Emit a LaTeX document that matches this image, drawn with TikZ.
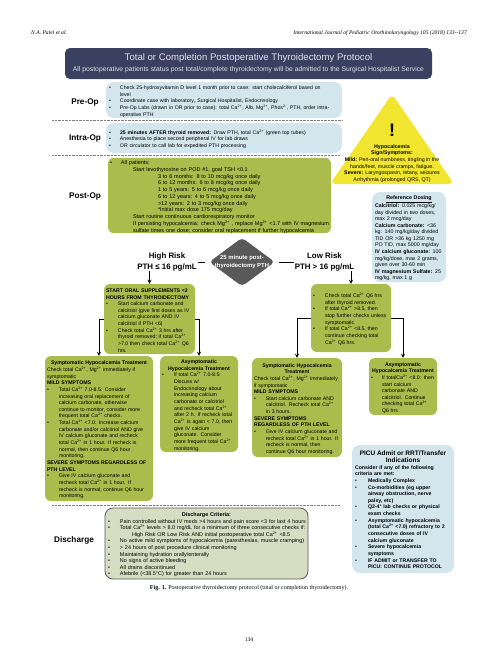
\documentclass[tikz,border=0pt]{standalone}
\usepackage{fontspec}
\setmainfont{Liberation Sans}
\setsansfont{Liberation Sans}
\newfontfamily\pagefont{Liberation Serif}
\usepackage{tikz}
\usetikzlibrary{positioning, calc, arrows.meta, shapes.geometric}
\usepackage{color}
\definecolor{navy}{RGB}{58, 64, 96}
\definecolor{paleblue}{RGB}{211, 230, 238}
\definecolor{olive}{RGB}{169, 188, 76}
\definecolor{warn}{RGB}{242, 229, 47}
\definecolor{slate}{RGB}{89, 89, 89}
\definecolor{sage}{RGB}{214, 221, 195}
\definecolor{titletext}{RGB}{222, 226, 236}
\setlength{\parindent}{0pt}
\newcommand{\caion}{Ca\textsuperscript{2+}}
\newcommand{\mgion}{Mg\textsuperscript{2+}}
\newcommand{\blt}[1]{\par\leftskip=#1\rightskip=-20pt plus 1fil\noindent\llap{\makebox[#1][l]{\textbullet}}}
\newcommand{\ctr}[1]{\par\leftskip=0pt\centerline{#1}}
\newcommand{\flush}{\par\leftskip=0pt\rightskip=-20pt plus 1fil\noindent}

\begin{document}
\begin{tikzpicture}[x=1pt, y=-1pt, every node/.style={font=\fontsize{5.2}{6.65}\selectfont}]
    \tikzstyle{bluebox} = [rectangle, fill=paleblue, rounded corners=8pt, align=left, inner xsep=3pt, inner ysep=0pt]
    \tikzstyle{greenbox} = [rectangle, fill=olive, rounded corners=6pt, align=left, inner xsep=2pt, inner ysep=0pt]
    \tikzstyle{phase} = [font=\fontsize{8.2}{10}\selectfont\bfseries]
    \tikzstyle{risk} = [font=\fontsize{7.9}{10}\selectfont\bfseries, align=center, inner sep=0pt]
    \tikzstyle{arrow} = [thick, ->, >=stealth]
    \tikzstyle{stub} = [thick, shorten >=1pt]
    \tikzstyle{divider} = [densely dotted, draw=gray, line width=0.4pt]
    \useasboundingbox (0,0) rectangle (499,665);

    % Page furniture
    \node (runleft) [anchor=west, inner sep=0pt, font=\pagefont\itshape\fontsize{5.6}{7}\selectfont] at (31,33) {N.A. Patel et al.};
    \node (runright) [anchor=east, inner sep=0pt, font=\pagefont\itshape\fontsize{5.6}{7}\selectfont] at (467,33) {International Journal of Pediatric Otorhinolaryngology 105 (2018) 133--137};
    \node (caption) [inner sep=0pt, font=\pagefont\fontsize{6}{7}\selectfont] at (249,588) {\textbf{Fig. 1.} Postoperative thyroidectomy protocol (total or completion thyroidectomy).};
    \node (pagenum) [inner sep=0pt, font=\pagefont\fontsize{5.6}{7}\selectfont] at (249,640) {134};

    % Title
    \node (title) [rectangle, fill=navy, rounded corners=5pt, text=titletext, align=center, minimum width=367pt, minimum height=31pt, inner sep=0pt] at (248.5,63.5) {{\fontsize{9.6}{11}\selectfont Total or Completion Postoperative Thyroidectomy Protocol}\\[3pt]{\fontsize{6.8}{9}\selectfont All postoperative patients status post total/complete thyroidectomy will be admitted to the Surgical Hospitalist Service}};

    % Phase boxes
    \node (preop) [bluebox, text width=230pt, minimum height=36pt] at (224,100) {%
        \blt{11pt}Check 25-hydroxyvitamin D level 1 month prior to case: start cholecalciferol based on\\level
        \blt{11pt}Coordinate case with laboratory,, Surgical Hospitalist, Endocrinology
        \blt{11pt}Pre-Op Labs (drawn in OR prior to case): total \caion, Alb, \mgion, Phos\textsuperscript{2-}, PTH, order intra-\\operative PTH\par};
    \node (intraop) [bluebox, text width=230pt, minimum height=30pt] at (224,138) {%
        \blt{11pt}\textbf{25 minutes AFTER thyroid removed:} Draw PTH, total \caion{} (green top tubes)
        \blt{11pt}Anesthesia to place second peripheral IV for lab draws
        \blt{11pt}OR circulator to call lab for expedited PTH processing\par};
    \node (postop) [greenbox, font=\fontsize{5.5}{6.75}\selectfont, text width=219pt, minimum height=75pt] at (219.5,195.5) {%
        \blt{11pt}All patients:\\
        \hspace*{12pt}Start levothyroxine on POD \#1, goal TSH <0.1\\
        \hspace*{37pt}3 to 6 months: 8 to 10 mcg/kg once daily\\
        \hspace*{37pt}6 to 12 months: 6 to 8 mcg/kg once daily\\
        \hspace*{37pt}1 to 5 years: 5 to 6 mcg/kg once daily\\
        \hspace*{37pt}6 to 12 years: 4 to 5 mcg/kg once daily\\
        \hspace*{37pt}>12 years: 2 to 3 mcg/kg once daily\\
        \hspace*{37pt}*Initial max dose 175 mcg/day\\
        \hspace*{12pt}Start routine continuous cardiorespiratory monitor\\
        \hspace*{12pt}If persisting hypocalcemia: check \mgion{} , replace \mgion{} <1.7 with IV magnesium\\
        \hspace*{12pt}sulfate times one dose; consider oral replacement if further hypocalcemia\par};

    \node (preoplbl) [phase] at (85,102) {Pre-Op};
    \node (intraoplbl) [phase, below of=preoplbl, node distance=36pt] {Intra-Op};
    \node (postoplbl) [phase, below of=intraoplbl, node distance=58pt] {Post-Op};
    \node (dischargelbl) [phase] at (74,540) {Discharge};

    \draw [divider] (52,120) -- (342,120);
    \draw [divider] (52,155.5) -- (340,155.5);
    \draw [divider] (52,505) -- (340,505);

    % Warning triangle and dosing
    \draw [fill=warn, rounded corners=5pt] [draw=none] (392,94) -- (454,184) -- (330,184) -- cycle;
    \node (bang) [inner sep=0pt, font=\fontsize{18}{20}\selectfont\bfseries] at (392,130) {!};
    \node (warntext) [inner sep=0pt, align=center, font=\fontsize{5.3}{6.6}\selectfont] at (392,163.5) {\textbf{Hypocalcemia}\\\textbf{Sign/Symptoms:}\\\textbf{Mild:} Peri-oral numbness, tingling in the\\hands/feet, muscle cramps, fatigue.\\\textbf{Severe:} Laryngospasm, tetany, seizures\\Arrhythmia (prolonged QRS, QT)};
    \node (dosing) [bluebox, font=\fontsize{5.3}{6.55}\selectfont, text width=68pt, minimum height=90pt] at (409,237) {%
        \ctr{\textbf{\underline{Reference Dosing}}}
        \flush\textbf{Calcitriol:} 0.025 mcg/kg/\\day divided in two doses,\\max 2 mcg/day\\
        \textbf{Calcium carbonate:} <36\\kg: 140 mg/kg/day divided\\TID OR >36 kg 1250 mg\\PO TID, max 5000 mg/day\\
        \textbf{IV calcium gluconate:} 100\\mg/kg/dose, max 2 grams,\\given over 30-60 min\\
        \textbf{IV magnesium Sulfate:} 25\\mg/kg, max 1 g\par};

    % PTH decision
    \node (pth) [diamond, fill=slate, rounded corners=4pt, inner sep=0pt, outer sep=3pt, minimum width=68pt, minimum height=51pt] at (242,262) {};
    \node (pthtext) [inner sep=0pt, align=center, text=white, font=\fontsize{5.9}{7.7}\selectfont] at (pth) {\textbf{25 minute post-}\\\textbf{thyroidectomy PTH}};
    \node (highlbl) [risk] at (167,262) {High Risk\\[1pt]PTH ≤ 16 pg/mL};
    \node (lowlbl) [risk] at (324.5,262) {Low Risk\\[1pt]PTH > 16 pg/mL};

    % High risk branch
    \node (highbox) [greenbox, text width=87pt, minimum height=70pt] at (149.5,319) {%
        \flush\textbf{START ORAL SUPPLEMENTS <2}\\\textbf{HOURS FROM THYROIDECTOMY}
        \blt{12pt}Start calcium carbonate and\\calcitriol (give first doses as IV\\calcium gluconate AND IV\\calcitriol if PTH <6)
        \blt{12pt}Check total \caion{} 3 hrs after\\thyroid removed; if total \caion\\>7.0 then check total \caion{} Q6\\hrs.\par};
    \node (symhigh) [greenbox, text width=104pt, minimum height=145pt] at (99,428.5) {%
        \ctr{\textbf{Symptomatic Hypocalcemia Treatment}}
        \flush Check total \caion, \mgion{} immediately if\\symptomatic\\\textbf{MILD SYMPTOMS}
        \blt{12pt}Total \caion{} 7.0-8.5: Consider\\increasing oral replacement of\\calcium carbonate, otherwise\\continue to monitor, consider more\\frequent total \caion{} checks.
        \blt{12pt}Total \caion{} <7.0: Increase calcium\\carbonate and/or calcitriol AND give\\IV calcium gluconate and recheck\\total \caion{} in 1 hour. If recheck is\\normal, then continue Q6 hour\\monitoring.
        \flush\textbf{SEVERE SYMPTOMS REGARDLESS OF}\\\textbf{PTH LEVEL}
        \blt{12pt}Give IV calcium gluconate and\\recheck total \caion{} in 1 hour. If\\recheck is normal, continue Q6 hour\\monitoring.\par};
    \node (asymhigh) [greenbox, text width=74pt, minimum height=96pt] at (199,404) {%
        \ctr{\textbf{Asymptomatic}}\ctr{\textbf{Hypocalcemia Treatment}}
        \blt{12pt}If total \caion{} 7.0-8.5:\\Discuss w/\\Endocrinology about\\increasing calcium\\carbonate or calcitriol\\and recheck total \caion\\after 2 h. If recheck total\\\caion{} is again < 7.0, then\\give IV calcium\\gluconate. Consider\\more frequent total \caion\\monitoring.\par};

    % Low risk branch
    \node (lowbox) [greenbox, text width=76pt, minimum height=68pt] at (351,318) {%
        \blt{12pt}Check total \caion{} Q6 hrs\\after thyroid removed.
        \blt{12pt}If total \caion{} >8.5, then\\stop further checks unless\\symptomatic.
        \blt{12pt}If total \caion{} <8.5, then\\continue checking total\\\caion{} Q6 hrs.\par};
    \node (symlow) [greenbox, text width=86pt, minimum height=99pt] at (297,407.5) {%
        \ctr{\textbf{Symptomatic Hypocalcemia}}\ctr{\textbf{Treatment}}
        \flush Check total \caion, \mgion{} immediately\\if symptomatic\\\textbf{MILD SYMPTOMS}
        \blt{12pt}Start calcium carbonate AND\\calcitriol. Recheck total \caion\\in 3 hours.
        \flush\textbf{SEVERE SYMPTOMS}\\\textbf{REGARDLESS OF PTH LEVEL}
        \blt{12pt}Give IV calcium gluconate and\\recheck total \caion{} in 1 hour. If\\recheck is normal, then\\continue Q6 hour monitoring.\par};
    \node (asymlow) [greenbox, text width=64pt, minimum height=57pt] at (403,386.5) {%
        \ctr{\textbf{Asymptomatic}}\ctr{\textbf{Hypocalcemia Treatment}}
        \blt{11pt}If total\caion{} <8.0: then\\start calcium\\carbonate AND\\calcitriol. Continue\\checking total \caion\\Q6 hrs\par};

    % PICU and discharge
    \node (picu) [bluebox, text width=96pt, minimum height=128pt] at (403,509) {%
        \ctr{\fontsize{6.5}{7.7}\selectfont\textbf{PICU Admit or RRT/Transfer}}
        \ctr{\fontsize{6.5}{7.7}\selectfont\textbf{Indications}}
        \flush\textbf{Consider if any of the following}\\\textbf{criteria are met:}
        \blt{13pt}\textbf{Medically Complex}
        \blt{13pt}\textbf{Co-morbidities (eg upper}\\\textbf{airway obstruction, nerve}\\\textbf{palsy, etc)}
        \blt{13pt}\textbf{Q2-4° lab checks or physical}\\\textbf{exam checks}
        \blt{13pt}\textbf{Asymptomatic hypocalcemia}\\\textbf{(total \caion{} <7.0) refractory to 2}\\\textbf{consecutive doses of IV}\\\textbf{calcium gluconate}
        \blt{13pt}\textbf{Severe hypocalcemia}\\\textbf{symptoms}
        \blt{13pt}\textbf{IF ADMIT or TRANSFER TO}\\\textbf{PICU: CONTINUE PROTOCOL}\par};
    \node (discharge) [rectangle, fill=sage, draw=black!65, line width=0.8pt, rounded corners=8pt, align=left, inner xsep=3pt, inner ysep=0pt, font=\fontsize{5.45}{6.6}\selectfont, text width=197pt, minimum height=71pt] at (206.5,543.5) {%
        \ctr{\textbf{Discharge Criteria:}}
        \blt{12pt}Pain controlled without IV meds >4 hours and pain score <3 for last 4 hours
        \blt{12pt}Total \caion{} levels > 8.0 mg/dL for a minimum of three consecutive checks if:\\\hspace*{12pt}High Risk OR Low Risk AND initial postoperative total \caion{} <8.5
        \blt{12pt}No active mild symptoms of hypocalcemia (paresthesias, muscle cramping)
        \blt{12pt}> 24 hours of post procedure clinical monitoring
        \blt{12pt}Maintaining hydration orally/enterally
        \blt{12pt}No signs of active bleeding
        \blt{12pt}All drains discontinued
        \blt{12pt}Afebrile (<38.5°C) for greater than 24 hours\par};

    % Arrows
    \draw [stub] (pth) -- (highlbl);
    \draw [stub] (pth) -- (lowlbl);
    \draw [arrow] (highbox.north |- highlbl.south) -- (highbox.north);
    \draw [arrow] (lowbox.north |- lowlbl.south) -- (lowbox.north);
    \draw [arrow] (highbox.west) -| (symhigh.north);
    \draw [arrow] (highbox.east) -| (asymhigh.north);
    \draw [arrow] (lowbox.west) -| (symlow.north);
    \draw [arrow] (lowbox.east) -| (asymlow.north);
\end{tikzpicture}
\end{document}
